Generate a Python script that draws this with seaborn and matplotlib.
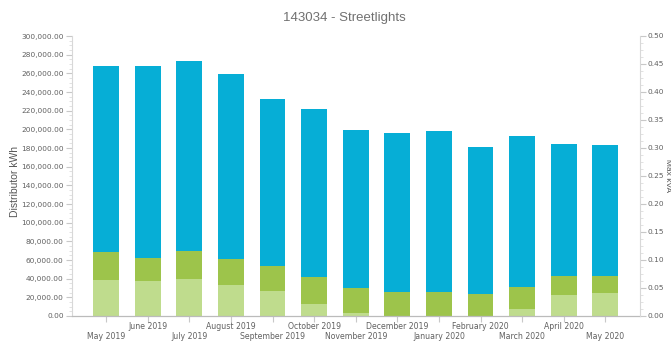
import matplotlib
matplotlib.use("Agg")
import matplotlib.pyplot as plt
from matplotlib.ticker import FuncFormatter, MultipleLocator
import numpy as np
import pandas as pd
import seaborn as sns

months = ["May 2019", "June 2019", "July 2019", "August 2019", "September 2019",
          "October 2019", "November 2019", "December 2019", "January 2020",
          "February 2020", "March 2020", "April 2020", "May 2020"]

# Monthly consumption by time-of-use band (kWh)
off_peak = [39000, 37500, 40000, 32800, 26800, 12900, 3200, 0, 0, 0, 7900, 22500, 24600]
shoulder = [30000, 25000, 29600, 27900, 26800, 28900, 27200, 26000, 25400, 23200, 23100, 20700, 18600]
peak = [199000, 205400, 203300, 198600, 179300, 180400, 168600, 169700, 172500, 158200, 161900, 141100, 139700]

df = pd.DataFrame({"month": months, "off_peak": off_peak, "shoulder": shoulder, "peak": peak})
df["lvl1"] = df["off_peak"]
df["lvl2"] = df["off_peak"] + df["shoulder"]
df["lvl3"] = df["lvl2"] + df["peak"]

sns.set_style("white")
plt.rcParams["font.family"] = ["DejaVu Sans"]

fig = plt.figure(figsize=(6.71, 3.43), dpi=100)
ax = fig.add_axes([72 / 671, 1 - 316 / 343, (639.5 - 72) / 671, 280 / 343])

colors = {"lvl3": "#06AED6", "lvl2": "#9DC44B", "lvl1": "#BFDC8D"}
for col in ["lvl3", "lvl2", "lvl1"]:
    sns.barplot(data=df, x="month", y=col, color=colors[col], width=0.62,
                saturation=1, ax=ax, edgecolor="none", linewidth=0)

ax.set_xlim(-0.82, len(months) - 1 + 0.82)
ax.set_ylim(0, 300000)
ax.yaxis.set_major_locator(MultipleLocator(20000))
ax.yaxis.set_minor_locator(MultipleLocator(5000))
ax.yaxis.set_major_formatter(FuncFormatter(lambda v, p: f"{v:,.2f}"))

tick_color = "#606060"
tick_size = 5.3
ax.tick_params(axis="y", which="major", labelsize=tick_size, colors="#c8c8c8", labelcolor=tick_color,
               length=4, width=0.8, left=True, direction="out", pad=2)
ax.tick_params(axis="y", which="minor", colors="#dddddd", length=2, width=0.6, left=True)

ax.set_xticks(range(len(months)))
ax.set_xticklabels([])
ax.tick_params(axis="x", colors="#c8c8c8", length=4, width=0.8, bottom=True, direction="out")
for i, m in enumerate(months):
    ypos = -0.038 if i % 2 == 1 else -0.074
    ax.text(i, ypos, m, transform=ax.get_xaxis_transform(), ha="center", va="center",
            fontsize=5.6, color=tick_color)

ax.set_xlabel("")
ax.set_ylabel("Distributor kWh", fontsize=7.5, color="#555555", va="center",
              family=["Liberation Sans"])
ax.yaxis.set_label_coords(-0.1, 0.48)

for s in ["top", "right"]:
    ax.spines[s].set_visible(False)
ax.spines["left"].set_color("#d8d8d8")
ax.spines["left"].set_linewidth(0.8)
ax.spines["bottom"].set_color("#bbbbbb")
ax.spines["bottom"].set_linewidth(0.9)

ax2 = ax.twinx()
ax2.set_ylim(0, 0.5)
ax2.yaxis.set_major_locator(MultipleLocator(0.05))
ax2.yaxis.set_minor_locator(MultipleLocator(0.0125))
ax2.yaxis.set_major_formatter(FuncFormatter(lambda v, p: f"{v:.2f}"))
ax2.tick_params(axis="y", which="major", labelsize=tick_size, colors="#c8c8c8", labelcolor=tick_color,
                length=4, width=0.8, right=True, pad=2)
ax2.tick_params(axis="y", which="minor", colors="#dddddd", length=2, width=0.6, right=True)
for s in ["top", "left", "bottom"]:
    ax2.spines[s].set_visible(False)
ax2.spines["right"].set_color("#d8d8d8")
ax2.spines["right"].set_linewidth(0.8)
ax2.set_ylabel("Max kVA", fontsize=6, color="#555555", rotation=270, va="center",
               family=["Liberation Sans"])
ax2.yaxis.set_label_coords(1.0495, 0.5)

fig.text(344 / 671, 1 - 18 / 343, "143034 - Streetlights", ha="center", va="center",
         fontsize=9.5, color="#707070", family=["Liberation Sans"])

fig.savefig("out.png", dpi=100, facecolor="white")
